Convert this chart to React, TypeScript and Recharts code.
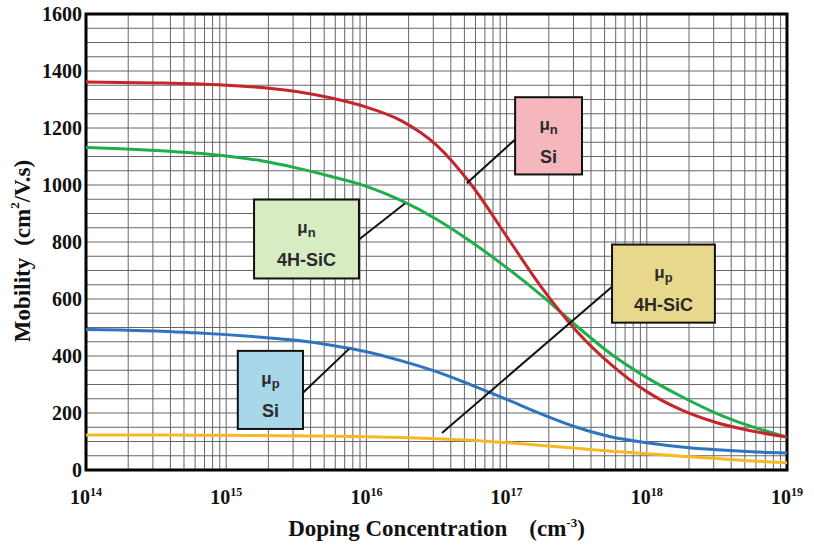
import { LineChart, Line, XAxis, YAxis, CartesianGrid, ReferenceArea, ReferenceLine, Label } from "recharts"

// doping concentration (cm^-3), every quarter decade
const concentration = [
  1e14, 1.78e14, 3.16e14, 5.62e14, 1e15, 1.78e15, 3.16e15, 5.62e15, 1e16, 1.78e16, 3.16e16, 5.62e16, 1e17,
  1.78e17, 3.16e17, 5.62e17, 1e18, 1.78e18, 3.16e18, 5.62e18, 1e19,
]

// mobility (cm2/V.s)
const muNSi = [1361, 1360, 1358, 1355, 1350, 1342, 1328, 1305, 1273, 1225, 1140, 1000, 820, 640, 487, 368, 275, 210, 166, 137, 116]
const muN4HSiC = [1132, 1127, 1121, 1113, 1102, 1085, 1060, 1030, 995, 945, 880, 800, 710, 612, 505, 405, 324, 257, 198, 152, 116]
const muPSi = [493, 491, 488, 482, 475, 466, 455, 438, 415, 383, 345, 298, 248, 196, 150, 116, 96, 81, 71, 64, 60]
const muP4HSiC = [123, 123, 123, 122, 122, 121, 120, 119, 117, 114, 110, 104, 96, 86, 76, 66, 57, 48, 40, 32, 25]

const decadeTicks = [1e14, 1e15, 1e16, 1e17, 1e18, 1e19]
const mobilityTicks = [0, 200, 400, 600, 800, 1000, 1200, 1400, 1600]

const data = concentration.map((c, i) => ({
  c,
  muNSi: muNSi[i],
  muN4HSiC: muN4HSiC[i],
  muPSi: muPSi[i],
  muP4HSiC: muP4HSiC[i],
}))

// log grid: 1..9 in every decade
const gridX: number[] = []
for (let d = 14; d < 19; d++) {
  for (let m = 1; m <= 9; m++) gridX.push(m * Math.pow(10, d))
}
gridX.push(1e19)
const gridY: number[] = []
for (let v = 0; v <= 1600; v += 50) gridY.push(v)

const callouts = [
  { sub: "n", material: "Si", fill: "#f5b6be", x1: 1.15e17, x2: 3.45e17, y1: 1037, y2: 1308, from: { x: 5.2e16, y: 1006 }, to: { x: 1.15e17, y: 1160 } },
  { sub: "n", material: "4H-SiC", fill: "#d8ecc4", x1: 1.58e15, x2: 8.85e15, y1: 672, y2: 949, from: { x: 1.88e16, y: 935 }, to: { x: 8.85e15, y: 809 } },
  { sub: "p", material: "4H-SiC", fill: "#e8d88b", x1: 5.65e17, x2: 3.06e18, y1: 517, y2: 791, from: { x: 3.46e16, y: 130 }, to: { x: 5.65e17, y: 643 } },
  { sub: "p", material: "Si", fill: "#a8d7e9", x1: 1.21e15, x2: 3.53e15, y1: 144, y2: 418, from: { x: 7.52e15, y: 425 }, to: { x: 3.53e15, y: 271 } },
]

const serif = "'Liberation Serif', 'Times New Roman', serif"
const sans = "'Liberation Sans', Arial, sans-serif"

function DecadeTick({ x, y, payload }: any) {
  const exp = Math.round(Math.log10(payload.value))
  return (
    <text x={x} y={y + 26} textAnchor="middle" fontFamily={serif} fontWeight="bold" fontSize={20} fill="#111">
      10
      <tspan dy={-8} fontSize={12}>
        {exp}
      </tspan>
    </text>
  )
}

function MobilityTick({ x, y, payload }: any) {
  return (
    <text x={x} y={y + 7} textAnchor="end" fontFamily={serif} fontWeight="bold" fontSize={20} fill="#111">
      {payload.value}
    </text>
  )
}

function CalloutBox({ x, y, width, height, fill, sub, material }: any) {
  const cx = x + width / 2
  return (
    <g>
      <rect x={x} y={y} width={width} height={height} fill={fill} stroke="#111" strokeWidth={2} />
      <text x={cx} y={y + height * 0.36 + 5} textAnchor="middle" fontFamily={sans} fontWeight="bold" fontSize={17} fill="#2a2a2a">
        μ
        <tspan dy={4} fontSize={13}>
          {sub}
        </tspan>
      </text>
      <text x={cx} y={y + height * 0.77 + 6} textAnchor="middle" fontFamily={sans} fontWeight="bold" fontSize={18} fill="#2a2a2a">
        {material}
      </text>
    </g>
  )
}

export default function App() {
  return (
    <div style={{ position: "absolute", left: 0, top: 0 }}>
      <LineChart width={814} height={546} data={data} margin={{ top: 14, right: 27, left: 26, bottom: 46 }}>
        <CartesianGrid stroke="#666" strokeWidth={1} horizontalValues={gridY} verticalValues={gridX} />
        <XAxis
          dataKey="c"
          type="number"
          scale="log"
          domain={[1e14, 1e19]}
          ticks={decadeTicks}
          interval={0}
          allowDataOverflow
          tickLine={false}
          axisLine={false}
          height={30}
          tick={<DecadeTick />}
        >
          <Label
            content={({ viewBox }: any) => (
              <text
                x={viewBox.x + viewBox.width / 2}
                y={viewBox.y + 66}
                textAnchor="middle"
                fontFamily={serif}
                fontWeight="bold"
                fontSize={23}
                fill="#111"
              >
                Doping Concentration
                <tspan dx={22}>(cm</tspan>
                <tspan dy={-9} fontSize={13}>
                  -3
                </tspan>
                <tspan dy={9}>)</tspan>
              </text>
            )}
          />
        </XAxis>
        <YAxis
          type="number"
          domain={[0, 1600]}
          ticks={mobilityTicks}
          interval={0}
          tickLine={false}
          axisLine={false}
          tickSize={0}
          tickMargin={4}
          width={60}
          tick={<MobilityTick />}
        >
          <Label
            content={({ viewBox }: any) => {
              const cx = 22
              const cy = viewBox.y + viewBox.height / 2 + 9
              return (
                <text
                  x={cx}
                  y={cy}
                  transform={`rotate(-90 ${cx} ${cy})`}
                  textAnchor="middle"
                  dominantBaseline="central"
                  fontFamily={serif}
                  fontWeight="bold"
                  fontSize={23}
                  fill="#111"
                >
                  Mobility
                  <tspan dx={12}>(cm</tspan>
                  <tspan dy={-8} fontSize={13}>
                    2
                  </tspan>
                  <tspan dy={8}>/V.s)</tspan>
                </text>
              )
            }}
          />
        </YAxis>

        <Line dataKey="muP4HSiC" type="monotone" stroke="#f6b923" strokeWidth={3} dot={false} isAnimationActive={false} />
        <Line dataKey="muPSi" type="monotone" stroke="#2e74bf" strokeWidth={3} dot={false} isAnimationActive={false} />
        <Line dataKey="muN4HSiC" type="monotone" stroke="#1fae4a" strokeWidth={3} dot={false} isAnimationActive={false} />
        <Line dataKey="muNSi" type="monotone" stroke="#c4262b" strokeWidth={3} dot={false} isAnimationActive={false} />

        {callouts.map((b, i) => (
          <ReferenceLine key={`l${i}`} segment={[b.from, b.to]} stroke="#111" strokeWidth={2} />
        ))}
        {callouts.map((b, i) => (
          <ReferenceArea
            key={`b${i}`}
            x1={b.x1}
            x2={b.x2}
            y1={b.y1}
            y2={b.y2}
            shape={(p: any) => <CalloutBox {...p} fill={b.fill} sub={b.sub} material={b.material} />}
          />
        ))}

        <ReferenceArea x1={1e14} x2={1e19} y1={0} y2={1600} fill="none" fillOpacity={0} stroke="#000" strokeWidth={3} />
      </LineChart>
    </div>
  )
}
